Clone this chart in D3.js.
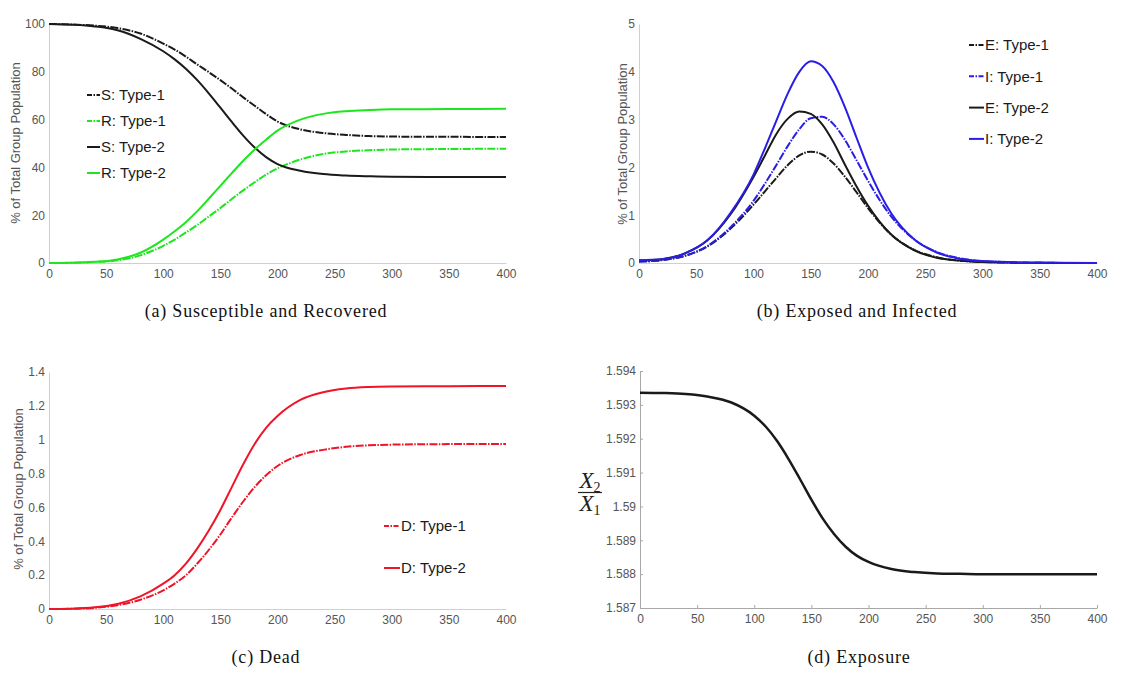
<!DOCTYPE html>
<html>
<head>
<meta charset="utf-8">
<script src="https://cdn.jsdelivr.net/npm/d3@7"></script>
<style>
  body { margin: 0; background: #fff; }
  svg { display: block; }
</style>
</head>
<body>
<svg id="fig" width="1122" height="674"></svg>
<script>
// Sampling days shared by every series
const days = [0, 20, 40, 60, 80, 100, 110, 120, 130, 140, 150, 160, 170, 180, 190, 200, 220, 240, 260, 280, 300, 350, 400];
const dayTicks = [0, 50, 100, 150, 200, 250, 300, 350, 400];

// (a) Susceptible and Recovered, % of group
const susType1 = [100, 99.8, 99.3, 98.3, 96.0, 91.8, 89.3, 86.3, 83.0, 79.8, 76.5, 73.0, 69.3, 65.8, 62.3, 59.2, 55.9, 54.4, 53.6, 53.1, 52.9, 52.8, 52.7];
const recType1 = [0, 0.1, 0.4, 1.1, 3.2, 7.2, 9.8, 12.8, 16.0, 19.5, 23.0, 26.8, 30.4, 33.8, 37.0, 39.6, 43.3, 45.6, 46.7, 47.2, 47.5, 47.7, 47.8];
const susType2 = [100, 99.7, 99.0, 97.4, 93.8, 88.6, 85.2, 81.2, 76.4, 70.9, 65.0, 59.0, 53.3, 48.3, 44.3, 41.4, 38.6, 37.2, 36.6, 36.3, 36.1, 36.0, 36.0];
const recType2 = [0, 0.1, 0.5, 1.5, 4.3, 9.8, 13.3, 17.2, 21.8, 27.0, 32.3, 37.6, 42.8, 47.5, 51.6, 55.4, 60.0, 62.4, 63.5, 64.0, 64.3, 64.4, 64.5];
const ticksA = [0, 20, 40, 60, 80, 100];

// (b) Exposed and Infected, % of group
const expType1 = [0.03, 0.06, 0.15, 0.35, 0.72, 1.22, 1.5, 1.78, 2.05, 2.25, 2.33, 2.27, 2.08, 1.8, 1.48, 1.15, 0.6, 0.28, 0.12, 0.05, 0.02, 0.003, 0];
const infType1 = [0.03, 0.06, 0.15, 0.36, 0.75, 1.3, 1.66, 2.05, 2.45, 2.8, 3.03, 3.06, 2.9, 2.57, 2.15, 1.72, 0.98, 0.5, 0.23, 0.1, 0.04, 0.005, 0];
const expType2 = [0.05, 0.08, 0.2, 0.48, 1.02, 1.8, 2.25, 2.7, 3.02, 3.17, 3.12, 2.9, 2.52, 2.05, 1.6, 1.2, 0.6, 0.27, 0.11, 0.05, 0.02, 0.003, 0];
const infType2 = [0.06, 0.08, 0.2, 0.48, 1.05, 1.85, 2.4, 2.98, 3.55, 4.0, 4.22, 4.12, 3.78, 3.25, 2.62, 2.0, 1.05, 0.5, 0.22, 0.09, 0.04, 0.005, 0];
const ticksB = [0, 1, 2, 3, 4, 5];

// (c) Dead, % of group
const deadType1 = [0, 0.001, 0.007, 0.022, 0.055, 0.11, 0.15, 0.2, 0.27, 0.35, 0.44, 0.54, 0.635, 0.72, 0.79, 0.845, 0.91, 0.94, 0.958, 0.967, 0.971, 0.974, 0.975];
const deadType2 = [0, 0.002, 0.01, 0.03, 0.075, 0.15, 0.2, 0.27, 0.36, 0.465, 0.585, 0.72, 0.855, 0.975, 1.07, 1.14, 1.235, 1.28, 1.302, 1.311, 1.314, 1.316, 1.317];
const ticksC = [0, 0.2, 0.4, 0.6, 0.8, 1, 1.2, 1.4];

// (d) Exposure ratio X2 / X1
const exposureRatio = [1.59336, 1.59335, 1.59332, 1.59324, 1.59307, 1.59268, 1.59236, 1.59193, 1.59140, 1.59081, 1.59020, 1.58964, 1.58918, 1.58881, 1.58854, 1.58836, 1.58815, 1.58806, 1.58802, 1.58801, 1.58800, 1.58800, 1.58800];
const ticksD = [1.587, 1.588, 1.589, 1.59, 1.591, 1.592, 1.593, 1.594];

const GREEN = "#1ee61e", BLUE = "#2a1ee6", RED = "#f01428", BLACK = "#1a1a1a";
const DASH = "8,1.4,1.5,1.4";
const SANS = "'Liberation Sans', Arial, sans-serif";
const SERIF = "'Liberation Serif', 'Times New Roman', serif";

const svg = d3.select("#fig");
svg.append("rect").attr("width", 1122).attr("height", 674).attr("fill", "#fff");

function fmt(v) { return String(+v.toFixed(3)); }

function drawPanel(o) {
  const x = d3.scaleLinear().domain([0, 400]).range(o.xr);
  const y = d3.scaleLinear().domain(o.yd).range(o.yr);
  const g = svg.append("g");

  const xAxis = d3.axisBottom(x).tickValues(dayTicks).tickSizeOuter(0)
    .tickSizeInner(o.tick).tickPadding(6).tickFormat(fmt);
  const yAxis = d3.axisLeft(y).tickValues(o.yTicks).tickSizeOuter(0)
    .tickSizeInner(o.tick).tickPadding(4).tickFormat(fmt);

  const gx = g.append("g").attr("transform", `translate(0,${o.yr[0]})`).call(xAxis);
  const gy = g.append("g").attr("transform", `translate(${o.xr[0]},0)`).call(yAxis);
  [gx, gy].forEach(a => {
    a.select(".domain").attr("stroke", o.axisColor).attr("stroke-width", 1);
    a.selectAll(".tick line").attr("stroke", o.axisColor);
    a.selectAll(".tick text").attr("fill", "#555").style("font-family", SANS).style("font-size", "12px");
  });

  const line = d3.line().x((d, i) => x(days[i])).y(d => y(d)).curve(d3.curveMonotoneX);
  o.series.forEach(s => {
    g.append("path").datum(s.values).attr("d", line)
      .attr("fill", "none").attr("stroke", s.color).attr("stroke-width", s.width || 2)
      .attr("stroke-dasharray", s.dashed ? DASH : null)
      .attr("stroke-linejoin", "round");
  });

  // legend
  if (o.legend) {
    const L = o.legend;
    o.series.forEach((s, i) => {
      const ly = L.y0 + i * L.dy;
      g.append("line").attr("x1", L.x).attr("x2", L.x + L.len).attr("y1", ly).attr("y2", ly)
        .attr("stroke", s.color).attr("stroke-width", 2)
        .attr("stroke-dasharray", s.dashed ? "5,1.5,1.5,1.5" : null);
      g.append("text").attr("x", L.x + L.len + 1).attr("y", ly).attr("dy", "0.36em")
        .attr("fill", "#1a1a1a").style("font-family", SANS).style("font-size", "15px")
        .text(s.name);
    });
  }

  // y axis title
  if (o.yTitle) {
    g.append("text").attr("transform", `translate(${o.yTitle.x},${o.yTitle.y}) rotate(-90)`)
      .attr("text-anchor", "middle").attr("dy", "0.35em")
      .attr("fill", "#555").style("font-family", SANS).style("font-size", "13px")
      .text("% of Total Group Population");
  }

  // caption
  g.append("text").attr("x", o.caption.x).attr("y", o.caption.y).attr("text-anchor", "middle")
    .attr("fill", "#111").style("font-family", SERIF).style("font-size", "18px")
    .style("letter-spacing", "0.8px").text(o.caption.text);
}

drawPanel({
  xr: [49, 506], yr: [263, 24], yd: [0, 100], yTicks: ticksA, tick: 0, axisColor: "#cfcfcf",
  series: [
    { name: "S: Type-1", values: susType1, color: BLACK, dashed: true },
    { name: "R: Type-1", values: recType1, color: GREEN, dashed: true },
    { name: "S: Type-2", values: susType2, color: BLACK },
    { name: "R: Type-2", values: recType2, color: GREEN }
  ],
  legend: { x: 87, len: 13, y0: 95, dy: 26 },
  yTitle: { x: 15, y: 143 },
  caption: { x: 266, y: 317, text: "(a) Susceptible and Recovered" }
});

drawPanel({
  xr: [639, 1097], yr: [263, 24], yd: [0, 5], yTicks: ticksB, tick: 0, axisColor: "#cfcfcf",
  series: [
    { name: "E: Type-1", values: expType1, color: BLACK, dashed: true },
    { name: "I: Type-1", values: infType1, color: BLUE, dashed: true },
    { name: "E: Type-2", values: expType2, color: BLACK },
    { name: "I: Type-2", values: infType2, color: BLUE }
  ],
  legend: { x: 969, len: 15, y0: 45, dy: 31.3 },
  yTitle: { x: 622, y: 144 },
  caption: { x: 857, y: 317, text: "(b) Exposed and Infected" }
});

drawPanel({
  xr: [49, 506], yr: [609, 372], yd: [0, 1.4], yTicks: ticksC, tick: 0, axisColor: "#cfcfcf",
  series: [
    { name: "D: Type-1", values: deadType1, color: RED, dashed: true },
    { name: "D: Type-2", values: deadType2, color: RED }
  ],
  legend: { x: 384, len: 16, y0: 526, dy: 42 },
  yTitle: { x: 18, y: 489 },
  caption: { x: 266, y: 663, text: "(c) Dead" }
});

drawPanel({
  xr: [640, 1097], yr: [608, 371], yd: [1.587, 1.594], yTicks: ticksD, tick: -3, axisColor: "#a8a8a8",
  series: [
    { name: "ratio", values: exposureRatio, color: BLACK, width: 2.5 }
  ],
  caption: { x: 859, y: 663, text: "(d) Exposure" }
});

// y axis title of panel (d): the fraction X2 / X1
const frac = svg.append("g").attr("fill", "#222").style("font-family", SERIF);
const num = frac.append("text").attr("x", 590).attr("y", 488).attr("text-anchor", "middle")
  .style("font-size", "23px").style("font-style", "italic");
num.append("tspan").text("X");
num.append("tspan").attr("dy", 4).style("font-size", "14px").style("font-style", "normal").text("2");
frac.append("line").attr("x1", 578).attr("x2", 602).attr("y1", 492.5).attr("y2", 492.5)
  .attr("stroke", "#222").attr("stroke-width", 1.2);
const den = frac.append("text").attr("x", 590).attr("y", 511).attr("text-anchor", "middle")
  .style("font-size", "23px").style("font-style", "italic");
den.append("tspan").text("X");
den.append("tspan").attr("dy", 4).style("font-size", "14px").style("font-style", "normal").text("1");
</script>
</body>
</html>
